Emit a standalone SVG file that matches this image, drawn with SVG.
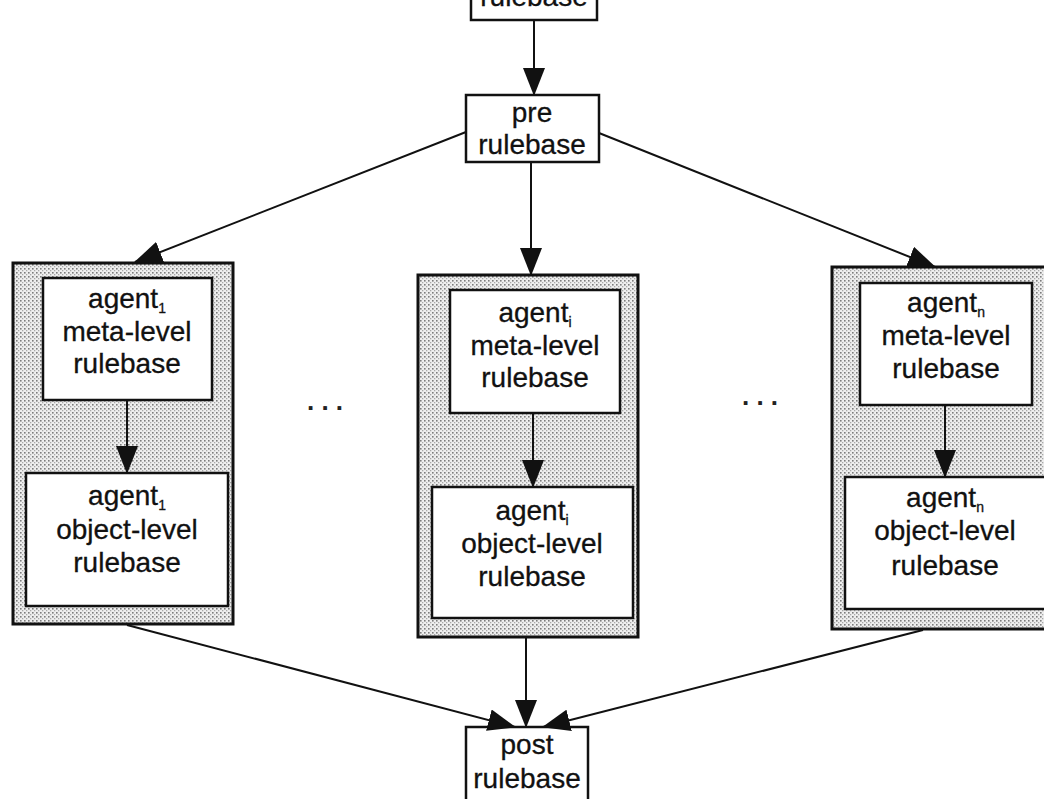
<svg xmlns="http://www.w3.org/2000/svg" width="1044" height="799" viewBox="0 0 1044 799">
  <style>
    .box { fill: #ffffff; stroke: #111111; stroke-width: 2.5; }
    .outer { fill: url(#stipple); stroke: #111111; stroke-width: 3; }
    .lbl { font-family: "Liberation Sans", Arial, sans-serif; font-size: 28px; fill: #111111; stroke: #111111; stroke-width: 0.3; text-anchor: middle; }
    .sub { font-size: 14px; }
    .edge { fill: none; stroke: #111111; stroke-width: 2; }
    .dots { font-family: "Liberation Sans", Arial, sans-serif; font-size: 26px; font-weight: bold; fill: #222222; text-anchor: middle; }
  </style>
  <defs>
    <pattern id="stipple" width="4" height="4" patternUnits="userSpaceOnUse">
      <rect width="4" height="4" fill="#eeeeee"/>
      <rect width="1.6" height="1.6" fill="#7c7c7c"/>
      <rect x="2" y="2" width="1.3" height="1.3" fill="#a8a8a8"/>
    </pattern>
    <marker id="arrow" viewBox="0 0 28 22" refX="27" refY="11" markerWidth="28" markerHeight="22" markerUnits="userSpaceOnUse" orient="auto">
      <path d="M0,0 L28,11 L0,22 Z" fill="#111111"/>
    </marker>
  </defs>

  <rect width="1044" height="799" fill="#ffffff"/>

  <!-- top rulebase (cut off at the upper edge) -->
  <g id="top-rulebase">
    <rect class="box" x="471" y="-20" width="126" height="40"/>
    <text class="lbl" x="534" y="6">rulebase</text>
  </g>

  <g id="pre-rulebase">
    <rect class="box" x="466" y="95" width="133" height="67"/>
    <text class="lbl" x="532" y="122">pre</text>
    <text class="lbl" x="532" y="154">rulebase</text>
  </g>

  <!-- agent 1 -->
  <g id="agent1">
    <rect class="outer" x="13" y="263" width="220" height="361"/>
    <g id="agent1-meta">
      <rect class="box" x="43" y="278" width="169" height="122"/>
      <text class="lbl" x="127" y="308">agent<tspan class="sub" dy="5">1</tspan></text>
      <text class="lbl" x="127" y="341">meta-level</text>
      <text class="lbl" x="127" y="373">rulebase</text>
    </g>
    <g id="agent1-object">
      <rect class="box" x="26" y="473" width="202" height="133"/>
      <text class="lbl" x="127" y="505">agent<tspan class="sub" dy="5">1</tspan></text>
      <text class="lbl" x="127" y="539">object-level</text>
      <text class="lbl" x="127" y="572">rulebase</text>
    </g>
  </g>

  <!-- agent i -->
  <g id="agenti">
    <rect class="outer" x="418" y="275" width="220" height="362"/>
    <g id="agenti-meta">
      <rect class="box" x="450" y="290" width="170" height="123"/>
      <text class="lbl" x="535" y="322">agent<tspan class="sub" dy="5">i</tspan></text>
      <text class="lbl" x="535" y="355">meta-level</text>
      <text class="lbl" x="535" y="387">rulebase</text>
    </g>
    <g id="agenti-object">
      <rect class="box" x="432" y="487" width="201" height="131"/>
      <text class="lbl" x="532" y="520">agent<tspan class="sub" dy="5">i</tspan></text>
      <text class="lbl" x="532" y="553">object-level</text>
      <text class="lbl" x="532" y="586">rulebase</text>
    </g>
  </g>

  <!-- agent n -->
  <g id="agentn">
    <rect class="outer" x="832" y="267" width="230" height="362"/>
    <g id="agentn-meta">
      <rect class="box" x="860" y="283" width="172" height="122"/>
      <text class="lbl" x="946" y="312">agent<tspan class="sub" dy="5">n</tspan></text>
      <text class="lbl" x="946" y="345">meta-level</text>
      <text class="lbl" x="946" y="378">rulebase</text>
    </g>
    <g id="agentn-object">
      <rect class="box" x="845" y="477" width="210" height="132"/>
      <text class="lbl" x="945" y="507">agent<tspan class="sub" dy="5">n</tspan></text>
      <text class="lbl" x="945" y="540">object-level</text>
      <text class="lbl" x="945" y="575">rulebase</text>
    </g>
  </g>

  <g id="post-rulebase">
    <rect class="box" x="466" y="727" width="122" height="90"/>
    <text class="lbl" x="527" y="754">post</text>
    <text class="lbl" x="527" y="788">rulebase</text>
  </g>

  <!-- elision marks between agents -->
  <text class="dots" x="325" y="410">. . .</text>
  <text class="dots" x="760" y="405">. . .</text>

  <g id="connectors">
    <line class="edge" x1="534" y1="20" x2="534" y2="95" marker-end="url(#arrow)"/>
    <line class="edge" x1="466" y1="132" x2="135" y2="262" marker-end="url(#arrow)"/>
    <line class="edge" x1="531" y1="162" x2="531" y2="275" marker-end="url(#arrow)"/>
    <line class="edge" x1="599" y1="133" x2="935" y2="267" marker-end="url(#arrow)"/>
    <line class="edge" x1="127" y1="400" x2="127" y2="473" marker-end="url(#arrow)"/>
    <line class="edge" x1="533" y1="413" x2="533" y2="487" marker-end="url(#arrow)"/>
    <line class="edge" x1="945" y1="405" x2="945" y2="477" marker-end="url(#arrow)"/>
    <line class="edge" x1="127" y1="625" x2="515" y2="727" marker-end="url(#arrow)"/>
    <line class="edge" x1="526" y1="637" x2="526" y2="727" marker-end="url(#arrow)"/>
    <line class="edge" x1="923" y1="630" x2="543" y2="727" marker-end="url(#arrow)"/>
  </g>
</svg>
